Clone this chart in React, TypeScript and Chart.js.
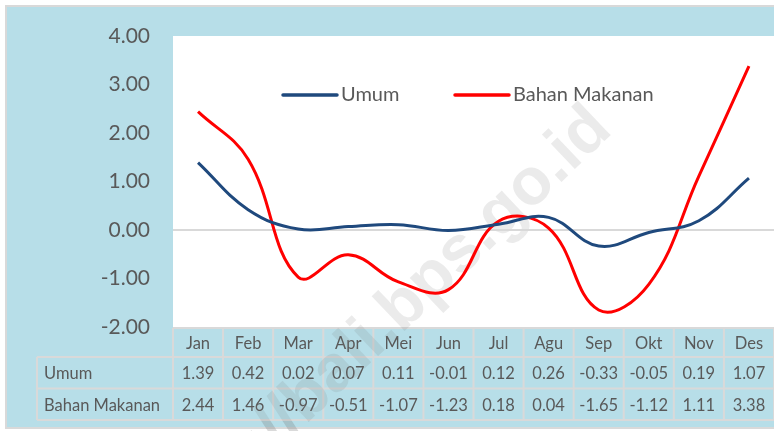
import React, { useEffect, useRef } from "react";
import { Chart, registerables } from "chart.js";

Chart.register(...registerables);

const categories = ["Jan", "Feb", "Mar", "Apr", "Mei", "Jun", "Jul", "Agu", "Sep", "Okt", "Nov", "Des"];
const umum = [1.39, 0.42, 0.02, 0.07, 0.11, -0.01, 0.12, 0.26, -0.33, -0.05, 0.19, 1.07];
const bahanMakanan = [2.44, 1.46, -0.97, -0.51, -1.07, -1.23, 0.18, 0.04, -1.65, -1.12, 1.11, 3.38];
const seriesNames = ["Umum", "Bahan Makanan"];
const seriesColors = ["#1F497D", "#FF0000"];
const yMin = -2;
const yMax = 4;
const yStep = 1;
const watermarkText = "http://bali.bps.go.id";

const FONT = "Lato, 'Open Sans', sans-serif";
const TEXT = "#595959";
const BLUE = "#B7DEE8";
const BORDER = "#D9D9D9";

const decorPlugin = {
  id: "decor",
  beforeDraw(chart: any) {
    const { ctx, width, height, chartArea } = chart;
    ctx.save();
    ctx.fillStyle = "#FFFFFF";
    ctx.fillRect(0, 0, width, height);
    ctx.fillStyle = BORDER;
    ctx.fillRect(5, 5, width - 5, height - 7);
    ctx.fillStyle = BLUE;
    ctx.fillRect(7, 7, width - 7, height - 11);
    ctx.fillStyle = "#FFFFFF";
    ctx.fillRect(chartArea.left, chartArea.top, chartArea.right - chartArea.left, chartArea.bottom - chartArea.top);
    // watermark (behind the lines)
    ctx.translate(614, 132);
    ctx.rotate((-43.5 * Math.PI) / 180);
    ctx.font = `bold 66px 'Liberation Sans', Arial, sans-serif`;
    ctx.textAlign = "right";
    ctx.textBaseline = "alphabetic";
    ctx.fillStyle = "rgba(120,120,120,0.15)";
    ctx.fillText(watermarkText, 0, 0);
    ctx.restore();
  },
  afterDatasetsDraw(chart: any) {
    const { ctx } = chart;
    const items = [
      { x: 283, label: chart.data.datasets[0].label, color: chart.data.datasets[0].borderColor },
      { x: 455, label: chart.data.datasets[1].label, color: chart.data.datasets[1].borderColor },
    ];
    ctx.save();
    ctx.font = `20px ${FONT}`;
    ctx.textBaseline = "middle";
    ctx.textAlign = "left";
    items.forEach((it) => {
      ctx.strokeStyle = it.color;
      ctx.lineWidth = 3.5;
      ctx.lineCap = "round";
      ctx.beginPath();
      ctx.moveTo(it.x, 95);
      ctx.lineTo(it.x + 54, 95);
      ctx.stroke();
      ctx.fillStyle = TEXT;
      ctx.fillText(it.label, it.x + 58, 95);
    });
    ctx.restore();
  },
  afterDraw(chart: any) {
    const { ctx, chartArea, scales } = chart;
    const xs = scales.x;
    const n = chart.data.labels.length;
    const colW = (chartArea.right - chartArea.left) / n;
    const top = chartArea.bottom + 1;
    const r1 = 357;
    const r2 = 388.5;
    const r3 = 420;
    const labelLeft = 37;
    ctx.save();
    ctx.fillStyle = BLUE;
    ctx.fillRect(chartArea.left, top - 1, chartArea.right - chartArea.left, r3 - top + 1);
    ctx.strokeStyle = BORDER;
    ctx.lineWidth = 2;
    ctx.beginPath();
    ctx.moveTo(chartArea.left, top);
    ctx.lineTo(chartArea.right, top);
    ctx.moveTo(labelLeft, r1);
    ctx.lineTo(chartArea.right, r1);
    ctx.moveTo(labelLeft, r2);
    ctx.lineTo(chartArea.right, r2);
    ctx.moveTo(labelLeft, r3);
    ctx.lineTo(chartArea.right, r3);
    ctx.moveTo(labelLeft, r1);
    ctx.lineTo(labelLeft, r3);
    for (let i = 0; i <= n; i++) {
      const x = i < n ? xs.getPixelForValue(i) - colW / 2 : chartArea.right;
      ctx.moveTo(x, top);
      ctx.lineTo(x, r3);
    }
    ctx.stroke();

    ctx.fillStyle = TEXT;
    ctx.font = `16.5px ${FONT}`;
    ctx.textBaseline = "middle";
    ctx.textAlign = "center";
    const rows = chart.data.datasets.map((d: any) => d.data as number[]);
    chart.data.labels.forEach((lab: string, i: number) => {
      const cx = xs.getPixelForValue(i);
      ctx.fillText(lab, cx, (top + r1) / 2 + 1);
      ctx.fillText(rows[0][i].toFixed(2), cx, (r1 + r2) / 2 + 1);
      ctx.fillText(rows[1][i].toFixed(2), cx, (r2 + r3) / 2 + 1);
    });
    ctx.textAlign = "left";
    ctx.fillText(chart.data.datasets[0].label, 44, (r1 + r2) / 2 + 1);
    ctx.fillText(chart.data.datasets[1].label, 44, (r2 + r3) / 2 + 1);

    // faint watermark over the table area
    ctx.beginPath();
    ctx.rect(0, top - 1, chart.width, chart.height);
    ctx.clip();
    ctx.translate(614, 132);
    ctx.rotate((-43.5 * Math.PI) / 180);
    ctx.font = `bold 66px 'Liberation Sans', Arial, sans-serif`;
    ctx.textAlign = "right";
    ctx.textBaseline = "alphabetic";
    ctx.fillStyle = "rgba(120,120,120,0.15)";
    ctx.fillText(watermarkText, 0, 0);
    ctx.restore();
  },
};

export default function App() {
  const ref = useRef<HTMLCanvasElement | null>(null);
  useEffect(() => {
    document.body.style.margin = "0";
    const canvas = ref.current;
    if (!canvas) return;
    const chart = new Chart(canvas, {
      type: "line",
      data: {
        labels: categories,
        datasets: [
          {
            label: seriesNames[0],
            data: umum,
            borderColor: seriesColors[0],
            backgroundColor: seriesColors[0],
            borderWidth: 3,
            pointRadius: 0,
            tension: 0.4,
            fill: false,
          },
          {
            label: seriesNames[1],
            data: bahanMakanan,
            borderColor: seriesColors[1],
            backgroundColor: seriesColors[1],
            borderWidth: 3,
            pointRadius: 0,
            tension: 0.4,
            fill: false,
          },
        ],
      },
      options: {
        responsive: false,
        animation: false,
        devicePixelRatio: 1,
        layout: { padding: { left: 0, right: 0, top: 36, bottom: 104 } },
        plugins: { legend: { display: false }, tooltip: { enabled: false } },
        scales: {
          x: { type: "category", display: false, offset: true },
          y: {
            min: yMin,
            max: yMax,
            afterFit: (s: any) => {
              s.width = 173;
            },
            border: { display: false },
            grid: {
              drawTicks: false,
              lineWidth: 2,
              color: (c: any) => (c.tick && c.tick.value === 0 ? BORDER : "rgba(0,0,0,0)"),
            },
            ticks: {
              stepSize: yStep,
              padding: 23,
              color: TEXT,
              font: { family: FONT, size: 21 },
              callback: (v: any) => Number(v).toFixed(2),
            },
          },
        },
      },
      plugins: [decorPlugin],
    });
    return () => chart.destroy();
  }, []);
  return (
    <div style={{ position: "fixed", left: 0, top: 0, width: 774, height: 431 }}>
      <canvas ref={ref} width={774} height={431} style={{ display: "block" }} />
    </div>
  );
}
